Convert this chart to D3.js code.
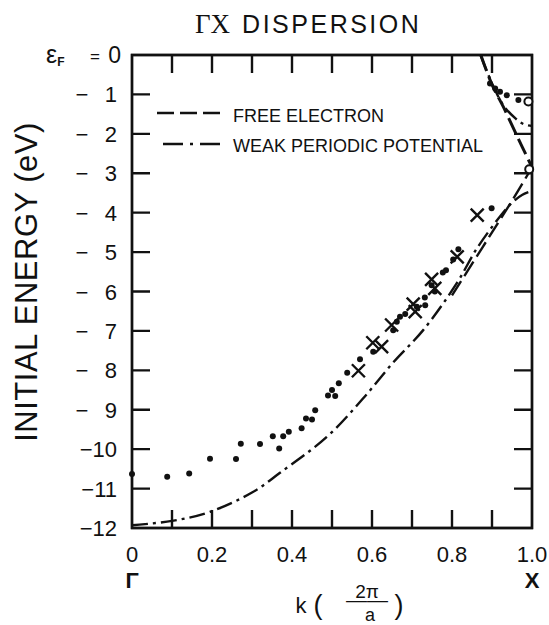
<!DOCTYPE html>
<html><head><meta charset="utf-8">
<script src="https://cdn.jsdelivr.net/npm/d3@7"></script>
<style>
html,body{margin:0;padding:0;background:#fff;}
text{font-family:"Liberation Sans",Arial,sans-serif;fill:#111;}
</style></head>
<body><svg id="c" width="549" height="625"></svg>
<script>
// ---------- data ----------
const kTicks = [0.1,0.2,0.3,0.4,0.5,0.6,0.7,0.8,0.9];
const kLabels = [0,0.2,0.4,0.6,0.8,1.0];
const eTicks = [-1,-2,-3,-4,-5,-6,-7,-8,-9,-10,-11];
const eLabels = [0,-1,-2,-3,-4,-5,-6,-7,-8,-9,-10,-11,-12];

// weak periodic potential, lower band (k, E)
const weakLowK = [0,0.1,0.195,0.3,0.37,0.487,0.578,0.653,0.728,0.812,0.862,0.92,0.95,0.975,1.0];
const weakLowE = [-11.93,-11.82,-11.59,-11.1,-10.6,-9.69,-8.71,-7.8,-6.98,-5.79,-4.91,-4.1,-3.75,-3.55,-3.45];
// weak periodic potential, upper band near X
const weakUpK = [0.872,0.9,0.93,0.96,0.98,1.0];
const weakUpE = [-0.02,-0.72,-1.3,-1.62,-1.76,-1.8];
// free electron near X (lower and reflected branch)
const freeLowK = [0.8,0.85,0.9,0.95,1.0];
const freeLowE = [-6.1,-5.3,-4.5,-3.7,-2.85];
const freeUpK = [0.872,0.9,0.93,0.96,1.0];
const freeUpE = [0,-0.75,-1.35,-2.0,-2.85];

// measured points: dots
const dotK = [0,0.088,0.143,0.195,0.26,0.272,0.32,0.352,0.368,0.378,0.392,0.424,0.435,0.45,0.458,0.49,0.5,0.508,0.517,0.538,0.57,0.603,0.653,0.662,0.67,0.683,0.712,0.733,0.732,0.749,0.757,0.777,0.785,0.803,0.816,0.899,0.895,0.908,0.92,0.937,0.966];
const dotE = [-10.63,-10.70,-10.62,-10.24,-10.25,-9.86,-9.87,-9.67,-9.98,-9.67,-9.56,-9.47,-9.22,-9.25,-9.01,-8.64,-8.5,-8.65,-8.33,-8.06,-7.72,-7.53,-6.98,-6.77,-6.64,-6.57,-6.39,-6.35,-6.15,-5.84,-6.0,-5.52,-5.46,-5.19,-4.93,-3.89,-0.72,-0.85,-0.93,-1.02,-1.14];
// crosses
const crossK = [0.566,0.602,0.624,0.649,0.703,0.708,0.749,0.757,0.813,0.863];
const crossE = [-8.01,-7.30,-7.40,-6.85,-6.32,-6.51,-5.69,-5.92,-5.12,-4.06];
// open circles at X
const openK = [0.991,0.993];
const openE = [-1.18,-2.9];

// ---------- chart ----------
const svg = d3.select("#c");
const x = d3.scaleLinear().domain([0,1]).range([132,532]);
const y = d3.scaleLinear().domain([0,-12]).range([55,528]);
const SW = 2.4, TL = 18;

// frame with inward ticks as one continuous outline path
const x0 = x(0), x1 = x(1), y0 = y(0), y1 = y(-12);
let fd = `M${x0},${y0}`;
kTicks.forEach(k=>{ fd += `L${x(k)},${y0}L${x(k)},${y0+TL}L${x(k)},${y0}`; });
fd += `L${x1},${y0}`;
eTicks.forEach(e=>{ fd += `L${x1},${y(e)}L${x1-TL},${y(e)}L${x1},${y(e)}`; });
fd += `L${x1},${y1}`;
kTicks.slice().reverse().forEach(k=>{ fd += `L${x(k)},${y1}L${x(k)},${y1-TL}L${x(k)},${y1}`; });
fd += `L${x0},${y1}`;
eTicks.slice().reverse().forEach(e=>{ fd += `L${x0},${y(e)}L${x0+TL},${y(e)}L${x0},${y(e)}`; });
fd += "Z";
svg.append("rect").attr("x",x0).attr("y",y0).attr("width",x1-x0).attr("height",y1-y0)
  .attr("fill","none").attr("stroke","#111").attr("stroke-width",SW);
svg.append("path").attr("d",fd).attr("fill","none").attr("stroke","#111").attr("stroke-width",SW)
  .attr("stroke-linejoin","miter");

// x labels
svg.append("g").selectAll("text").data(kLabels).join("text")
  .attr("x",d=>x(d)).attr("y",y(-12)+34).attr("text-anchor","middle").attr("font-size",22)
  .text(d=> d===0?"0":d===1?"1.0":d.toFixed(1));
svg.append("text").attr("x",x(0)).attr("y",y(-12)+60).attr("text-anchor","middle")
  .attr("font-family","Liberation Serif").attr("font-weight","bold").attr("font-size",22).text("Γ");
svg.append("text").attr("x",x(1)).attr("y",y(-12)+60).attr("text-anchor","middle")
  .attr("font-family","Liberation Serif").attr("font-weight","bold").attr("font-size",22).text("X");
// k (2π/a)
svg.append("text").attr("x",301).attr("y",613).attr("text-anchor","middle").attr("font-size",22).text("k");
svg.append("text").attr("x",318).attr("y",614).attr("text-anchor","middle").attr("font-size",27).text("(");
svg.append("text").attr("x",367).attr("y",598).attr("text-anchor","middle").attr("font-size",19).attr("font-family","Liberation Serif").text("2π");
svg.append("text").attr("x",367).attr("y",606).attr("text-anchor","middle").attr("font-size",19).attr("textLength",42).attr("lengthAdjust","spacingAndGlyphs").text("——");
svg.append("text").attr("x",370).attr("y",621).attr("text-anchor","middle").attr("font-size",18).text("a");
svg.append("text").attr("x",399).attr("y",614).attr("text-anchor","middle").attr("font-size",27).text(")");

// y labels
const yl = svg.append("g");
eLabels.forEach(v=>{
  const yy = y(v)+8;
  if(v===0){
    const t = yl.append("text").attr("x",46).attr("y",yy).attr("font-size",25);
    t.append("tspan").text("ε");
    t.append("tspan").attr("font-size",12).attr("dy",3).attr("font-weight","bold").text("F");
    yl.append("text").attr("x",95).attr("y",yy-1).attr("text-anchor","middle").attr("font-size",17).text("=");
    yl.append("text").attr("x",121).attr("y",yy).attr("text-anchor","end").attr("font-size",23).text("0");
  } else if(v>-10){
    yl.append("text").attr("x",82).attr("y",yy).attr("text-anchor","middle").attr("font-size",22).text("−");
    yl.append("text").attr("x",117).attr("y",yy).attr("text-anchor","end").attr("font-size",22).text(String(-v));
  } else {
    yl.append("text").attr("x",117).attr("y",yy).attr("text-anchor","end").attr("font-size",22).text("−"+String(-v));
  }
});

// titles
const tt = svg.append("text").attr("x",195).attr("y",33).attr("font-size",25);
tt.append("tspan").attr("font-family","Liberation Serif").attr("font-size",27).text("ΓX");
tt.append("tspan").attr("dx",12).attr("letter-spacing",2.5).text("DISPERSION");
svg.append("text").attr("transform",`translate(37,282) rotate(-90)`).attr("text-anchor","middle")
  .attr("font-size",31).attr("letter-spacing",0.5).text("INITIAL  ENERGY  (eV)");

// curves
const line = d3.line().x(d=>x(d[0])).y(d=>y(d[1])).curve(d3.curveCatmullRom);
const zip = (a,b)=>a.map((v,i)=>[v,b[i]]);
const DASHDOT = "16,5,3,5";
const DASHED = "17,6";
svg.append("path").attr("d",line(zip(weakLowK,weakLowE))).attr("fill","none").attr("stroke","#111").attr("stroke-width",SW).attr("stroke-dasharray",DASHDOT);
svg.append("path").attr("d",line(zip(weakUpK,weakUpE))).attr("fill","none").attr("stroke","#111").attr("stroke-width",SW).attr("stroke-dasharray",DASHDOT);
svg.append("path").attr("d",line(zip(freeLowK,freeLowE))).attr("fill","none").attr("stroke","#111").attr("stroke-width",SW).attr("stroke-dasharray",DASHED);
svg.append("path").attr("d",line(zip(freeUpK,freeUpE))).attr("fill","none").attr("stroke","#111").attr("stroke-width",SW+0.6).attr("stroke-dasharray",DASHED);

// legend
svg.append("path").attr("d","M157,113L220,113").attr("fill","none").attr("stroke","#111").attr("stroke-width",SW).attr("stroke-dasharray","17,6");
svg.append("text").attr("x",233).attr("y",122).attr("font-size",18).text("FREE ELECTRON");
svg.append("path").attr("d","M163,144L220,144").attr("fill","none").attr("stroke","#111").attr("stroke-width",SW).attr("stroke-dasharray","20,7,3,7");
svg.append("text").attr("x",233).attr("y",152).attr("font-size",18).text("WEAK PERIODIC POTENTIAL");

// points
svg.append("g").selectAll("circle").data(zip(dotK,dotE)).join("circle")
  .attr("cx",d=>x(d[0])).attr("cy",d=>y(d[1])).attr("r",3).attr("fill","#111");
svg.append("g").selectAll("path").data(zip(crossK,crossE)).join("path")
  .attr("d",d=>{const cx=x(d[0]),cy=y(d[1]),s=6.5;return `M${cx-s},${cy-s}L${cx+s},${cy+s}M${cx-s},${cy+s}L${cx+s},${cy-s}`;})
  .attr("stroke","#111").attr("stroke-width",2.4).attr("fill","none");
svg.append("g").selectAll("circle").data(zip(openK,openE)).join("circle")
  .attr("cx",d=>x(d[0])).attr("cy",d=>y(d[1])).attr("r",4).attr("fill","#fff").attr("stroke","#111").attr("stroke-width",2);
</script></body></html>
